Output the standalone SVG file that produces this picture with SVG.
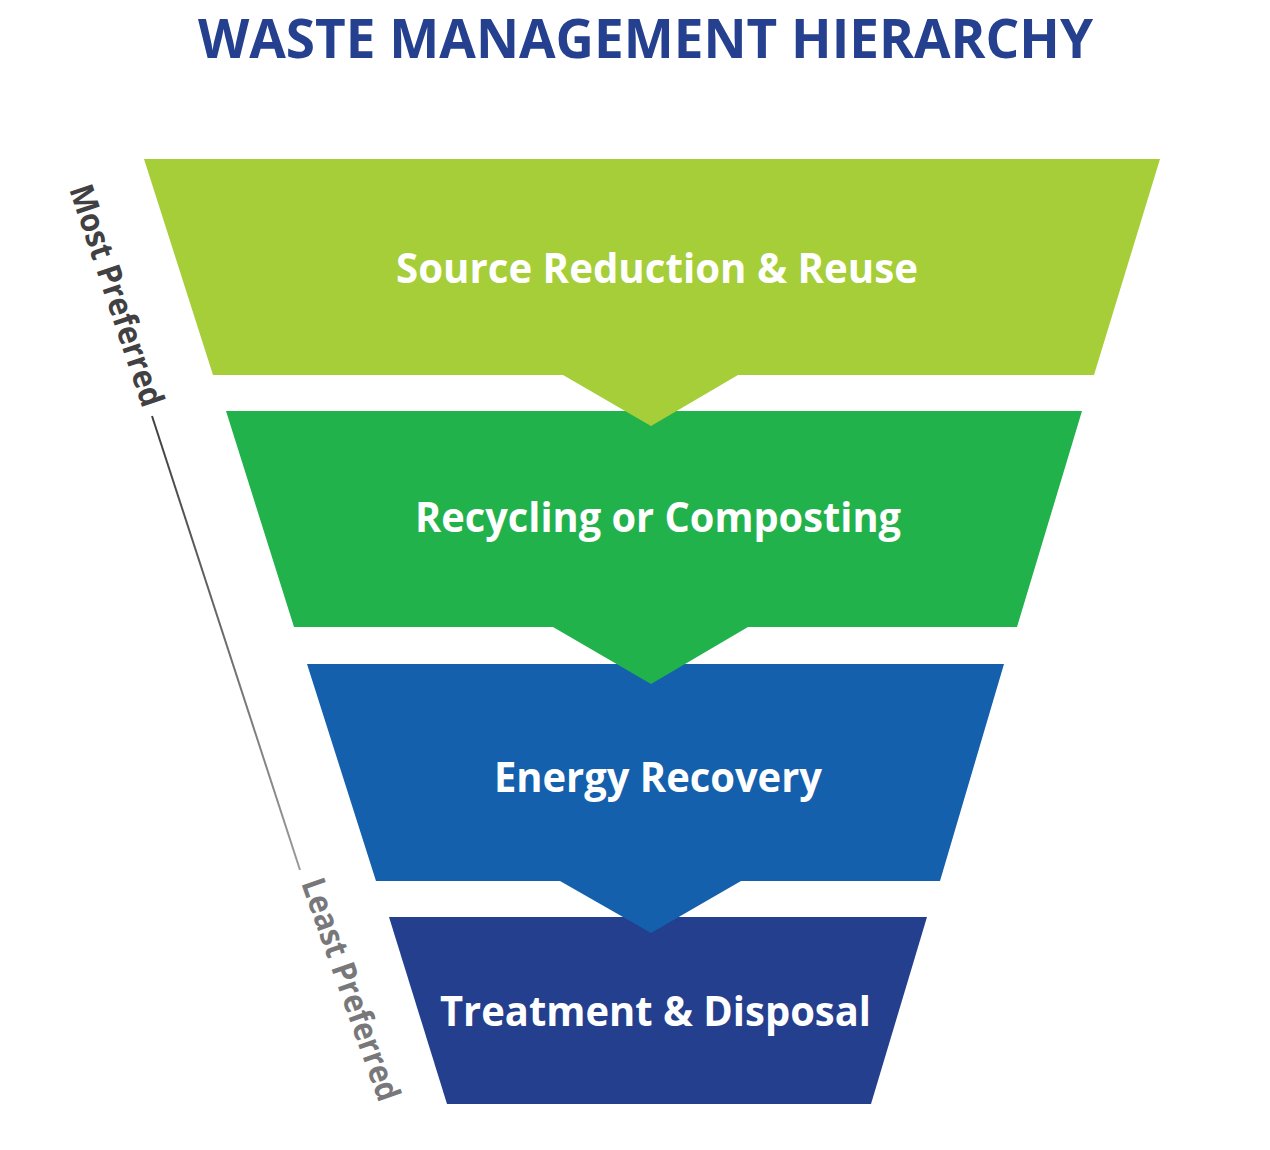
<svg xmlns="http://www.w3.org/2000/svg" width="1270" height="1150" viewBox="0 0 1270 1150">
  <defs>
    <linearGradient id="lineGrad" x1="152" y1="415" x2="300" y2="870" gradientUnits="userSpaceOnUse">
      <stop offset="0" stop-color="#3f3f42"/>
      <stop offset="1" stop-color="#9a9a9c"/>
    </linearGradient>
  </defs>
  <style>
    .title { font-family: "Open Sans", "Liberation Sans", sans-serif; font-weight: 700; font-size: 54px; fill: #24408f; }
    .label { font-family: "Open Sans", "Liberation Sans", sans-serif; font-weight: 700; font-size: 42px; fill: #ffffff; }
    .side { font-family: "Open Sans", "Liberation Sans", sans-serif; font-weight: 700; font-size: 33px; }
  </style>
  <rect width="1270" height="1150" fill="#ffffff"/>
  <text class="title" x="198" y="58" textLength="895" lengthAdjust="spacingAndGlyphs">WASTE MANAGEMENT HIERARCHY</text>

  <g id="connectors">
    <line x1="152" y1="416" x2="300" y2="870" stroke="url(#lineGrad)" stroke-width="2"/>
  </g>

  <g id="most-preferred">
    <text class="side" fill="#414042" transform="translate(69,189) rotate(71.5)" textLength="232" lengthAdjust="spacingAndGlyphs">Most Preferred</text>
  </g>
  <g id="least-preferred">
    <text class="side" fill="#78787b" transform="translate(301,883) rotate(70.5)" textLength="234" lengthAdjust="spacingAndGlyphs">Least Preferred</text>
  </g>

  <g id="treatment-disposal">
    <polygon points="389,917 927,917 871,1104 447,1104" fill="#233f8e"/>
    <text class="label" x="440" y="1026" textLength="431" lengthAdjust="spacingAndGlyphs">Treatment &amp; Disposal</text>
  </g>
  <g id="energy-recovery">
    <polygon points="307,664 1004,664 940,881 741,881 651,933 560,881 376,881" fill="#1560ad"/>
    <text class="label" x="494" y="792" textLength="328" lengthAdjust="spacingAndGlyphs">Energy Recovery</text>
  </g>
  <g id="recycling">
    <polygon points="226,411 1082,411 1017,627 748,627 651,684 553,627 294,627" fill="#22b24c"/>
    <text class="label" x="415" y="532" textLength="486" lengthAdjust="spacingAndGlyphs">Recycling or Composting</text>
  </g>
  <g id="source-reduction">
    <polygon points="144,159 1160,159 1094,375 738,375 651,426 563,375 213,375" fill="#a6ce39"/>
    <text class="label" x="396" y="283" textLength="522" lengthAdjust="spacingAndGlyphs">Source Reduction &amp; Reuse</text>
  </g>
</svg>
